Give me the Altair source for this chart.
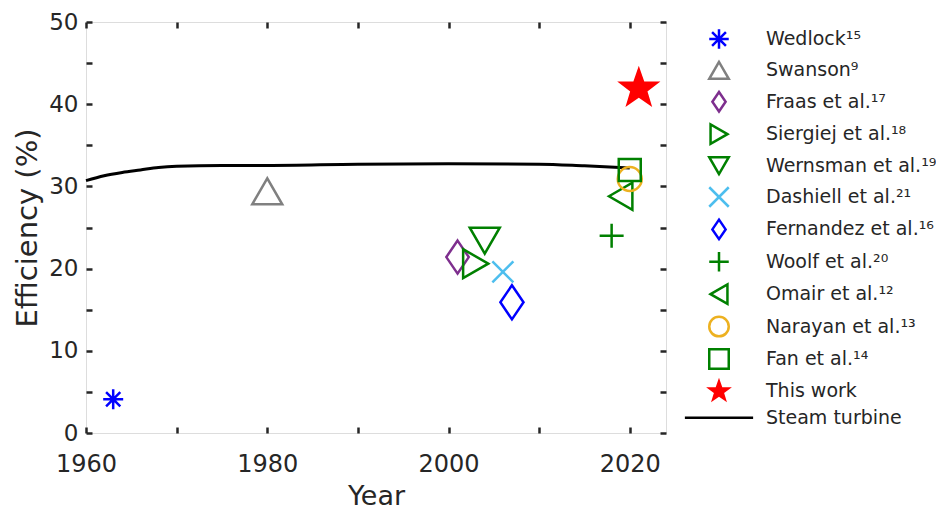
import math
import altair as alt
import pandas as pd

# ---- data ----
sources = ["Wedlock¹⁵", "Swanson⁹", "Fraas et al.¹⁷", "Siergiej et al.¹⁸",
           "Wernsman et al.¹⁹", "Dashiell et al.²¹", "Fernandez et al.¹⁶",
           "Woolf et al.²⁰", "Omair et al.¹²", "Narayan et al.¹³",
           "Fan et al.¹⁴", "This work"]
years = [1963, 1980, 2001, 2003, 2004, 2006, 2007, 2018, 2019, 2020, 2020, 2021]
effs = [4.1, 29.4, 21.4, 20.6, 23.4, 19.6, 15.9, 24.0, 28.8, 30.9, 32.0, 41.9]

steam_label = "Steam turbine"
steam_years = [1960, 1962, 1964, 1966, 1968, 1970, 1975, 1980, 1990, 2000, 2010, 2015, 2020]
steam_eff = [30.7, 31.3, 31.7, 32.0, 32.3, 32.45, 32.55, 32.55, 32.7, 32.75, 32.7, 32.5, 32.25]

x_ticks = [1960, 1970, 1980, 1990, 2000, 2010, 2020]
x_labels = [1960, 1980, 2000, 2020]
y_ticks = [0, 5, 10, 15, 20, 25, 30, 35, 40, 45, 50]
y_labels = [0, 10, 20, 30, 40, 50]

# ---- styles ----
colors = ["#0000ff", "#808080", "#7e2f8e", "#008000", "#008000", "#4dbeee",
          "#0000ff", "#008000", "#008000", "#edb120", "#008000", "#ff0000"]
fills = ["transparent"] * 11 + ["#ff0000"]
marker_sizes = [400, 900, 1090, 841, 900, 441, 1160, 576, 729, 576, 484, 1430]

asterisk = "M0,-1V1M-1,0H1M-0.71,-0.71L0.71,0.71M-0.71,0.71L0.71,-0.71"
diamond = "M0,-1L0.68,0L0,1L-0.68,0Z"
xcross = "M-1,-1L1,1M-1,1L1,-1"
plus = "M0,-1V1M-1,0H1"
star_pts = []
for i in range(10):
    r = 1.0 if i % 2 == 0 else 0.40
    a = -math.pi / 2 + i * math.pi / 5
    star_pts.append(f"{r * math.cos(a):.3f},{r * math.sin(a):.3f}")
star = "M" + "L".join(star_pts) + "Z"
line_sym = "M-3.5,0H3.5"
shapes = [asterisk, "triangle-up", diamond, "triangle-right", "triangle-down",
          xcross, diamond, plus, "triangle-left", "circle", "square", star]

domain_all = sources + [steam_label]
stroke_scale = alt.Scale(domain=domain_all, range=colors + ["#000000"])
fill_scale = alt.Scale(domain=domain_all, range=fills + ["transparent"])
shape_scale = alt.Scale(domain=domain_all, range=shapes + [line_sym])
size_scale = alt.Scale(type="ordinal", domain=sources, range=marker_sizes)

W, H = 580, 411
FONT = "DejaVu Sans"
TXT = "#262626"

legend = alt.Legend(title=None, orient="none", legendX=622, legendY=6,
                    labelFont=FONT, labelFontSize=19, labelColor=TXT,
                    symbolSize=380, symbolStrokeWidth=2.5, rowPadding=2.4,
                    labelOffset=36, labelLimit=0, padding=0)

xsc = alt.Scale(domain=[1960, 2024], nice=False, zero=False)
ysc = alt.Scale(domain=[0, 50], nice=False, zero=False)

tick_common = dict(labels=False, domain=False, grid=False, ticks=True, tickSize=6,
                   tickWidth=2.5, tickColor=TXT, title=None)

ax_x_main = alt.Axis(orient="bottom", values=x_labels, ticks=False, domain=False, grid=False,
                     format="d", labelFont=FONT, labelFontSize=24, labelColor=TXT,
                     labelPadding=19, labelFlush=False, labelOverlap=False,
                     title="Year", titleFont=FONT, titleFontSize=27,
                     titleFontWeight="normal", titleColor=TXT, titlePadding=7)
ax_x_b = alt.Axis(orient="top", offset=-H, values=x_ticks, **tick_common)
ax_x_t = alt.Axis(orient="bottom", offset=-H, values=x_ticks, **tick_common)
ax_y_main = alt.Axis(orient="left", values=y_labels, ticks=False, domain=False, grid=False,
                     labelFont=FONT, labelFontSize=23, labelColor=TXT, labelPadding=8,
                     labelFlush=False, labelOverlap=False,
                     title="Efficiency (%)", titleFont=FONT, titleFontSize=29,
                     titleFontWeight="normal", titleColor=TXT, titlePadding=6)
ax_y_l = alt.Axis(orient="right", offset=-W, values=y_ticks, **tick_common)
ax_y_r = alt.Axis(orient="left", offset=-W, values=y_ticks, **tick_common)

pts = pd.DataFrame({"Year": years, "Eff": effs, "Source": sources})
steam = pd.DataFrame({"Year": steam_years, "Eff": steam_eff,
                      "Source": [steam_label] * len(steam_years)})

line = alt.Chart(steam).mark_line(strokeWidth=3, interpolate="monotone").encode(
    x=alt.X("Year:Q", scale=xsc, axis=ax_x_b),
    y=alt.Y("Eff:Q", scale=ysc, axis=ax_y_l),
    stroke=alt.Stroke("Source:N", scale=stroke_scale, legend=legend),
)

def point_layer(df, ax_x, ax_y):
    return alt.Chart(df).mark_point(opacity=1, strokeWidth=2.5).encode(
        x=alt.X("Year:Q", scale=xsc, axis=ax_x),
        y=alt.Y("Eff:Q", scale=ysc, axis=ax_y),
        stroke=alt.Stroke("Source:N", scale=stroke_scale, legend=legend),
        fill=alt.Fill("Source:N", scale=fill_scale, legend=legend),
        shape=alt.Shape("Source:N", scale=shape_scale, legend=legend),
        size=alt.Size("Source:N", scale=size_scale, legend=None),
    )

open_pts = point_layer(pts[pts.Source != "This work"], ax_x_main, ax_y_main)
star_pt = point_layer(pts[pts.Source == "This work"], ax_x_t, ax_y_r)

chart = alt.layer(line, open_pts, star_pt).resolve_axis(
    x="independent", y="independent"
).properties(
    width=W, height=H,
    autosize=alt.AutoSizeParams(type="none"),
    padding={"left": 78, "top": 14, "right": 270, "bottom": 80},
).configure_view(
    stroke=TXT, strokeWidth=3
).configure(font=FONT)

chart.save("out.html", embed_options={"renderer": "svg", "actions": False})
